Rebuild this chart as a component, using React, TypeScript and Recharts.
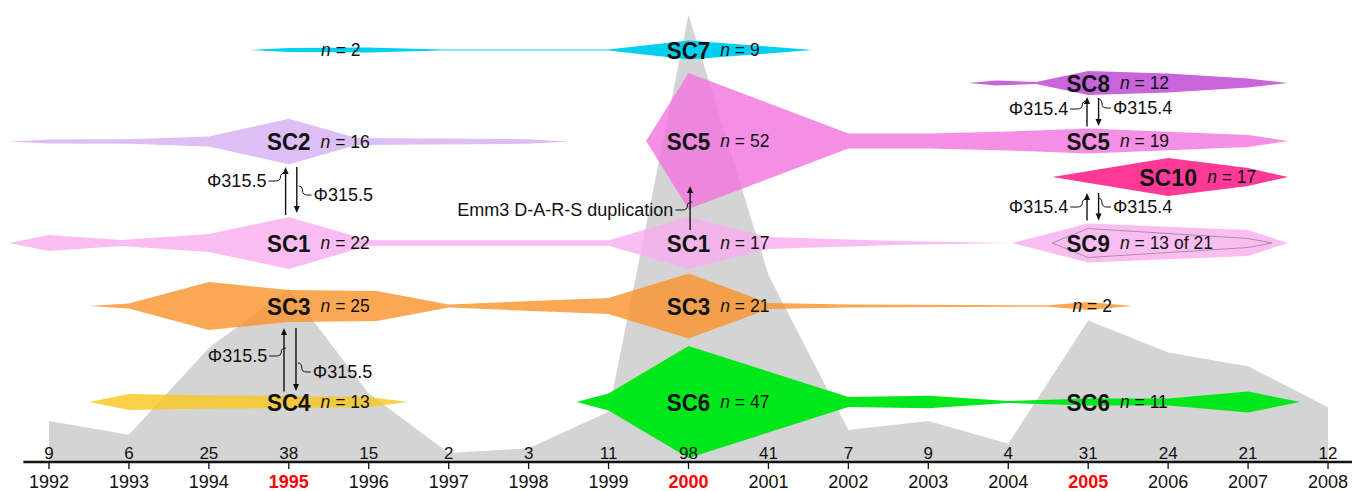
import React from 'react'
import { ComposedChart, Area, XAxis, YAxis, ReferenceLine, ReferenceDot } from 'recharts'

const YEARS = [1992, 1993, 1994, 1995, 1996, 1997, 1998, 1999, 2000, 2001, 2002, 2003, 2004, 2005, 2006, 2007, 2008]
const ISOLATES = [9, 6, 25, 38, 15, 2, 3, 11, 98, 41, 7, 9, 4, 31, 24, 21, 12]
const RED_YEARS = [1995, 2000, 2005]

// clade lanes: year of each vertex and half thickness there
const SC7_X = [1994.5, 1995, 1996, 1996.9, 1999, 2000, 2001, 2001.55]
const SC7_W = [0, 2, 2.5, 0.6, 0.6, 9.5, 3.5, 0]
const SC2_X = [1991.5, 1992, 1993, 1994, 1995, 1995.85, 1998, 1998.5]
const SC2_W = [0, 2, 2.2, 5, 22.7, 3.5, 2.3, 0]
const SC5_X = [1999.47, 2000, 2002, 2003, 2004, 2005, 2007, 2007.5]
const SC5_W = [0, 68, 7.5, 7.5, 9.5, 12.5, 6, 0]
const SC8_X = [2003.5, 2003.85, 2004.35, 2005, 2006, 2007, 2007.5]
const SC8_W = [0, 2.5, 1, 12, 9.5, 4.5, 0]
const SC10_X = [2004.55, 2006, 2007, 2007.5]
const SC10_W = [0, 19, 9, 0]
const SC1_X = [1991.5, 1992, 1992.9, 1994, 1995, 1996, 1999, 2000, 2001, 2002.6, 2004]
const SC1_W = [0, 8, 3, 9, 26, 2.7, 2.7, 26, 6, 2, 0]
const SC9_X = [2004.05, 2005, 2007, 2007.5]
const SC9_W = [0, 19.5, 13, 0]
const SC9_SUB_X = [2004.55, 2005, 2007, 2007.3]
const SC9_SUB_W = [0, 14.5, 4.5, 0]
const SC3_X = [1992.5, 1993, 1994, 1995, 1996.1, 1997, 1999, 2000, 2001, 2002, 2004.5, 2005, 2005.55]
const SC3_W = [0, 2.5, 24, 16, 15, 1.5, 8, 32.5, 3, 1.5, 0.7, 4, 0]
const SC4_X = [1992.5, 1993, 1994, 1995, 1996, 1996.5]
const SC4_W = [0, 8, 6.5, 6, 5, 0]
const SC6_X = [1998.6, 1999, 2000, 2002, 2003, 2004, 2005, 2006, 2007, 2007.65]
const SC6_W = [0, 8.5, 56, 5, 6.3, 1, 3.5, 3.5, 10.5, 0]

// labels
const LABEL_NAME = ['SC7', '', 'SC2', 'SC5', 'SC8', 'SC5', 'SC10', 'SC1', 'SC1', 'SC9', 'SC3', 'SC3', '', 'SC4', 'SC6', 'SC6']
const LABEL_N = ['9', '2', '16', '52', '12', '19', '17', '22', '17', '13 of 21', '25', '21', '2', '13', '47', '11']
const LABEL_X = [2000, 1995.65, 1995, 2000, 2005, 2005, 2006, 1995, 2000, 2005, 1995, 2000, 2005.05, 1995, 2000, 2005]
const LABEL_LANE = ['SC7', 'SC7', 'SC2', 'SC5', 'SC8', 'SC5', 'SC10', 'SC1', 'SC1', 'SC9', 'SC3', 'SC3', 'SC3', 'SC4', 'SC6', 'SC6']

// phage transfers (arrows) and their labels
const ARROW_X = [1994.96, 1995.1, 1994.94, 1995.09, 2000.02, 2004.985, 2005.13, 2004.985, 2005.13]
const ARROW_FROM = [200, 152, 376.5, 313, 215, 111.5, 83, 205.5, 178]
const ARROW_TO = [152, 198, 313, 376, 171, 82, 111, 178, 205.5]
const NOTE_TEXT = ['Φ315.5', 'Φ315.5', 'Φ315.5', 'Φ315.5', 'Emm3 D-A-R-S duplication', 'Φ315.4', 'Φ315.4', 'Φ315.4', 'Φ315.4']
const NOTE_X = [1994.72, 1995.31, 1994.73, 1995.3, 1999.81, 2004.75, 2005.31, 2004.75, 2005.31]
const NOTE_Y = [166, 180, 341, 357, 195, 94, 93, 192, 192]
const NOTE_SIDE = ['left', 'right', 'left', 'right', 'left', 'left', 'right', 'left', 'right']

// lane centres on the lane axis (0 = top of plot)
const ROW: Record<string, number> = {
  SC7: 35, SC8: 68, SC2: 126.5, SC5: 126, SC10: 162, SC1: 228, SC9: 228, SC3: 291, SC4: 387, SC6: 387,
}

const FONT = '"Liberation Sans", Arial, Helvetica, sans-serif'

function bandData(xs: number[], ws: number[], row: number) {
  return xs.map((x, i) => ({ year: x, band: [row - ws[i], row + ws[i]] }))
}

const BANDS = [
  { id: 'SC7', data: bandData(SC7_X, SC7_W, ROW.SC7), fill: '#00D0F0', opacity: 1 },
  { id: 'SC2', data: bandData(SC2_X, SC2_W, ROW.SC2), fill: '#D4AEF2', opacity: 0.8 },
  { id: 'SC5', data: bandData(SC5_X, SC5_W, ROW.SC5), fill: '#F273E0', opacity: 0.8 },
  { id: 'SC8', data: bandData(SC8_X, SC8_W, ROW.SC8), fill: '#C050D8', opacity: 0.88 },
  { id: 'SC10', data: bandData(SC10_X, SC10_W, ROW.SC10), fill: '#FF3A96', opacity: 1 },
  { id: 'SC1', data: bandData(SC1_X, SC1_W, ROW.SC1), fill: '#F9ADEF', opacity: 0.8 },
  { id: 'SC9', data: bandData(SC9_X, SC9_W, ROW.SC9), fill: '#F9ADEF', opacity: 0.8 },
  { id: 'SC3', data: bandData(SC3_X, SC3_W, ROW.SC3), fill: '#F99228', opacity: 0.8 },
  { id: 'SC4', data: bandData(SC4_X, SC4_W, ROW.SC4), fill: '#F9C71C', opacity: 0.8 },
  { id: 'SC6', data: bandData(SC6_X, SC6_W, ROW.SC6), fill: '#00E81A', opacity: 1 },
]

const countData = YEARS.map((y, i) => ({ year: y, count: ISOLATES[i] }))

function YearTick(props: any) {
  const { x, y, payload } = props
  const yr = payload.value
  const i = YEARS.indexOf(yr)
  const red = RED_YEARS.includes(yr)
  return (
    <g>
      <text x={x} y={y} dy={-12} textAnchor="middle" fontSize={17} fill="#111">
        {ISOLATES[i]}
      </text>
      <text x={x} y={y} dy={17} textAnchor="middle" fontSize={18}
        fontWeight={red ? 700 : 400} fill={red ? '#FF0000' : '#111'}>
        {yr}
      </text>
    </g>
  )
}

const cladeLabel = (i: number) => (p: any) => {
  const { cx, cy } = p
  const name = LABEL_NAME[i]
  const w = name.length === 4 ? 58 : 43.5
  return (
    <g>
      {name && (
        <text x={cx} y={cy} dy="0.36em" textAnchor="middle" fontSize={24} fontWeight={700}
          fill="#111" textLength={w} lengthAdjust="spacingAndGlyphs">
          {name}
        </text>
      )}
      <text x={name ? cx + w / 2 + 10 : cx} y={cy} dy="0.36em"
        textAnchor={name ? 'start' : 'middle'} fontSize={17.5} fill="#111">
        <tspan fontStyle="italic">n</tspan> = {LABEL_N[i]}
      </text>
    </g>
  )
}

const arrowShape = (p: any) => {
  const { x1, y1, x2, y2 } = p
  const d = y2 < y1 ? -1 : 1
  return (
    <g>
      <line x1={x1} y1={y1} x2={x2} y2={y2 - d * 5} stroke="#111" strokeWidth={1.4} />
      <path d={`M${x2},${y2} L${x2 - 3},${y2 - d * 7} L${x2 + 3},${y2 - d * 7} Z`} fill="#111" />
    </g>
  )
}

const noteShape = (i: number) => (p: any) => {
  const { cx, cy } = p
  const left = NOTE_SIDE[i] === 'left'
  const lead = left
    ? `M${cx + 2},${cy} L${cx + 9},${cy} Q${cx + 14},${cy} ${cx + 14},${cy - 4} Q${cx + 14},${cy - 8} ${cx + 19},${cy - 8}`
    : `M${cx - 15},${cy - 9} Q${cx - 11},${cy - 9} ${cx - 11},${cy - 4} Q${cx - 11},${cy} ${cx - 6},${cy} L${cx - 2},${cy}`
  return (
    <g>
      <text x={cx} y={cy} dy="0.36em" textAnchor={left ? 'end' : 'start'} fontSize={18} fill="#111">
        {NOTE_TEXT[i]}
      </text>
      <path d={lead} fill="none" stroke="#111" strokeWidth={1} />
    </g>
  )
}

export default function App() {
  return (
    <div style={{ position: 'absolute', left: 0, top: 0, width: 1352, height: 491, background: '#fff', fontFamily: FONT }}>
      <ComposedChart width={1352} height={491} data={countData}
        margin={{ top: 15, right: 0, left: 9, bottom: 0 }}>
        <YAxis yAxisId="count" domain={[0, 98]} hide allowDataOverflow />
        <YAxis yAxisId="band" domain={[0, 447]} reversed hide allowDataOverflow />
        <Area yAxisId="count" dataKey="count" type="linear" fill="#D4D4D4" fillOpacity={1}
          stroke="none" dot={false} activeDot={false} isAnimationActive={false} />
        {BANDS.map((b) => (
          <Area key={b.id} yAxisId="band" data={b.data} dataKey="band" type="linear"
            fill={b.fill} fillOpacity={b.opacity} stroke="none" dot={false} activeDot={false}
            isAnimationActive={false} />
        ))}
        <Area yAxisId="band" data={bandData(SC9_SUB_X, SC9_SUB_W, ROW.SC9)} dataKey="band"
          type="linear" fill="none" stroke="#9C8A9C" strokeWidth={0.9} dot={false}
          activeDot={false} isAnimationActive={false} />
        {ARROW_X.map((x, i) => (
          <ReferenceLine key={'a' + i} yAxisId="band" ifOverflow="visible"
            segment={[{ x, y: ARROW_FROM[i] }, { x, y: ARROW_TO[i] }]} shape={arrowShape} />
        ))}
        {NOTE_X.map((x, i) => (
          <ReferenceDot key={'n' + i} yAxisId="band" x={x} y={NOTE_Y[i]} r={0}
            ifOverflow="visible" shape={noteShape(i)} />
        ))}
        {LABEL_X.map((x, i) => (
          <ReferenceDot key={'l' + i} yAxisId="band" x={x} y={ROW[LABEL_LANE[i]]} r={0}
            ifOverflow="visible" shape={cladeLabel(i)} />
        ))}
        <ReferenceLine yAxisId="count" ifOverflow="visible" stroke="#111" strokeWidth={2.5}
          segment={[{ x: 1991.68, y: 0 }, { x: 2008.3, y: 0 }]} />
        <XAxis dataKey="year" type="number" domain={[1991.5, 2008.3]} allowDataOverflow
          ticks={YEARS} interval={0} height={29} axisLine={false}
          tickLine={{ stroke: '#111', strokeWidth: 1.3 }} tickSize={7} tick={<YearTick />} />
      </ComposedChart>
    </div>
  )
}
